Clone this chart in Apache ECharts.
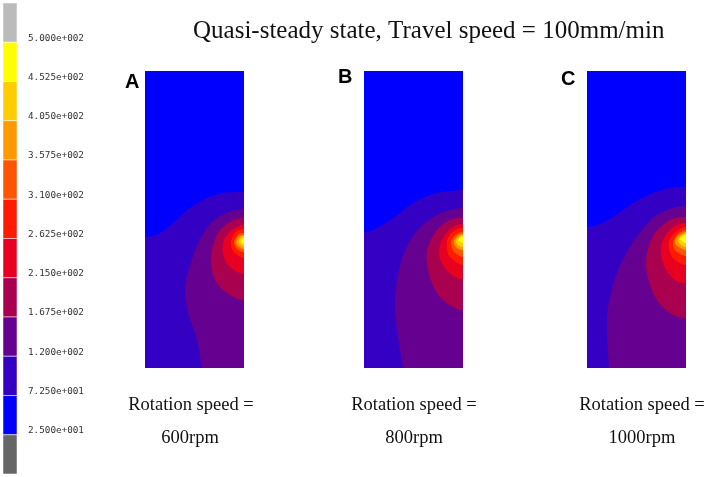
<!DOCTYPE html>
<html><head><meta charset="utf-8">
<style>html,body{margin:0;padding:0;background:#fff;overflow:hidden}#c{width:706px;height:477px;filter:blur(0.45px)}</style>
<script src="https://cdn.jsdelivr.net/npm/echarts@6/dist/echarts.min.js"></script>
</head><body><div id="c"></div>
<script>
const legendColors = ['#bbbbbb','#ffff00','#ffcc00','#ff9900','#ff5500','#ff1a00','#e80020','#aa0050','#660090','#3300c4','#0000ff','#666666'];
const tickLabels = ['5.000e+002','4.525e+002','4.050e+002','3.575e+002','3.100e+002','2.625e+002','2.150e+002','1.675e+002','1.200e+002','7.250e+001','2.500e+001'];
const bandColors = ['#3300c4','#660090','#aa0050','#e80020','#ff1a00','#ff5500','#ff9900','#ffcc00','#ffff00'];
const baseColor = '#0000ff';
const panelA = [
 [[0,166],[15,162],[28,152],[45,137],[62,127],[78,122],[99,121]],
 [[99,138],[82,142],[65,153],[52,175],[44,198],[40,218],[43,242],[52,269],[57,297]],
 [[99,147],[85,151],[73,162],[67,179],[66,192],[70,209],[82,222],[99,229]],
 [[99,154],[87,159],[79,169],[78,181],[83,194],[99,203]],
 [[99,158],[92,160],[87,167],[86,173],[89,181],[99,187]],
 [[99,162],[94,163],[90,168],[89,172],[92,178],[99,181]],
 [[99,164],[95,165],[92,168],[91,172],[94,176],[99,178]],
 [[99,165],[96,166],[94,169],[94,172],[96,174],[99,176]],
 [[99,167],[97,168],[96,170],[97,172],[99,173]]
];
const panelB = [
 [[0,161],[13,157],[29,147],[49,132],[69,123],[86,120],[99,119]],
 [[99,137],[83,140],[66,148],[49,165],[38,188],[32,216],[31,239],[34,266],[39,297]],
 [[99,147],[86,149],[73,159],[64,176],[63,192],[68,212],[79,229],[99,239]],
 [[99,153],[88,157],[79,167],[75,181],[79,194],[89,205],[99,208]],
 [[99,157],[90,160],[84,167],[83,176],[86,186],[99,194]],
 [[99,161],[93,163],[88,168],[87,174],[90,181],[99,186]],
 [[99,163],[95,164],[91,168],[90,172],[93,177],[99,179]],
 [[99,164],[96,165],[93,168],[92,171],[95,175],[99,176]],
 [[99,166],[97,166],[94,169],[97,171],[99,172]]
];
const panelC = [
 [[0,156],[10,154],[26,146],[46,132],[66,122],[83,117],[99,116]],
 [[99,135],[83,138],[66,147],[46,171],[30,202],[21,236],[20,262],[22,297]],
 [[99,146],[83,149],[68,162],[60,182],[60,202],[68,226],[83,242],[99,247]],
 [[99,152],[86,156],[76,169],[74,182],[78,197],[88,209],[99,212]],
 [[99,156],[90,160],[83,168],[82,178],[87,188],[99,194]],
 [[99,159],[92,162],[87,168],[86,175],[90,181],[99,185]],
 [[99,161],[94,163],[89,167],[88,172],[92,176],[99,179]],
 [[99,162],[95,164],[92,167],[91,170],[94,174],[99,176]],
 [[99,164],[96,165],[93,168],[96,171],[99,172]]
];
const panels = [panelA, panelB, panelC];
const panelLeft = [145, 364, 587];
const title = 'Quasi-steady state, Travel speed = 100mm/min';
const letters = [['A',125,72],['B',338,67],['C',561,69]];
const captions = [['Rotation speed =',191,405],['600rpm',190,438],['Rotation speed =',414,405],['800rpm',414,438],['Rotation speed =',642,405],['1000rpm',642,438]];

// Smooth a contour in pixel space; contours leave the panel's side edges horizontally.
function spline(pts, firstSide, lastSide){
  const n=pts.length, out=[];
  const before=firstSide?[2*pts[0][0]-pts[1][0],pts[1][1]]:pts[0];
  const after=lastSide?[2*pts[n-1][0]-pts[n-2][0],pts[n-2][1]]:pts[n-1];
  for(let i=0;i<n-1;i++){
    const p0=i>0?pts[i-1]:before,p1=pts[i],p2=pts[i+1],p3=i+2<n?pts[i+2]:after;
    for(let k=0;k<10;k++){
      const t=k/10,t2=t*t,t3=t2*t;
      out.push([0,1].map(d=>0.5*(2*p1[d]+(p2[d]-p0[d])*t+(2*p0[d]-5*p1[d]+4*p2[d]-p3[d])*t2+(3*p1[d]-p0[d]-3*p2[d]+p3[d])*t3)));
    }
  }
  out.push(pts[n-1]);
  return out;
}
const grids=[],xAxes=[],yAxes=[],series=[];
panels.forEach((panel,pi)=>{
  grids.push({left:panelLeft[pi],top:71,width:99,height:297});
  xAxes.push({type:'value',gridIndex:pi,min:0,max:99,show:false});
  yAxes.push({type:'value',gridIndex:pi,min:0,max:297,inverse:true,show:false});
  series.push({type:'custom',xAxisIndex:pi,yAxisIndex:pi,coordinateSystem:'cartesian2d',clip:true,silent:true,
    data:[[-1]].concat(panel.map((_,i)=>[i])),
    encode:{x:[],y:[]},
    renderItem(params,api){
      const i=api.value(0);
      const tl=api.coord([0,0]),br=api.coord([99,297]);
      if(i<0){
        return {type:'rect',shape:{x:tl[0],y:tl[1],width:br[0]-tl[0],height:br[1]-tl[1]},style:{fill:baseColor}};
      }
      const last=panel[i][panel[i].length-1];
      const pts=spline(panel[i].map(p=>api.coord(p)),true,last[1]<297);
      if(i<2){
        pts.push([br[0],br[1]]);
        if(i===0) pts.push([tl[0],br[1]]);
      }
      return {type:'polygon',shape:{points:pts},style:{fill:bandColors[i]}};
    }
  });
});
grids.push({left:3,top:3,width:14,height:471});
xAxes.push({type:'value',gridIndex:3,min:0,max:1,show:false});
yAxes.push({type:'value',gridIndex:3,min:0,max:12,interval:1,inverse:true,position:'right',
  axisLine:{show:false},axisTick:{show:false},splitLine:{show:false},
  axisLabel:{show:true,align:'left',verticalAlign:'bottom',margin:11,lineHeight:8,fontFamily:'DejaVu Sans Mono',fontSize:9.3,color:'#333',
    showMinLabel:false,showMaxLabel:false,formatter:v=>tickLabels[v-1]||''}});
series.push({type:'custom',xAxisIndex:3,yAxisIndex:3,silent:true,clip:false,
  data:legendColors.map((_,i)=>[i]),encode:{x:[],y:[0]},
  renderItem(params,api){
    const i=api.value(0);
    const a=api.coord([0,i]),b=api.coord([1,i+1]);
    return {type:'rect',shape:{x:a[0],y:a[1],width:b[0]-a[0],height:b[1]-a[1]},
      style:{fill:legendColors[i],stroke:'rgba(255,255,255,0.5)',lineWidth:1}};
  }});
const graphics=[
 {type:'text',left:193,top:19,style:{text:title,font:'25px "Liberation Serif"',fill:'#111'}},
 ...letters.map(l=>({type:'text',left:l[1],top:l[2],style:{text:l[0],font:'bold 20px "Liberation Sans"',fill:'#000'}})),
 ...captions.map(c=>({type:'text',x:c[1],y:c[2],style:{text:c[0],font:'18.5px "Liberation Serif"',fill:'#111',textAlign:'center',textVerticalAlign:'middle'}}))
];
const chart=echarts.init(document.getElementById('c'),null,{renderer:'canvas'});
chart.setOption({animation:false,backgroundColor:'#fff',grid:grids,xAxis:xAxes,yAxis:yAxes,series,graphic:graphics});
</script></body></html>
